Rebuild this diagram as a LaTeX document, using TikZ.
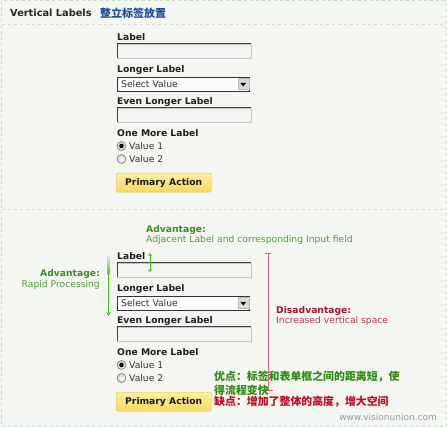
\documentclass[tikz,border=0pt]{standalone}
\usepackage{fontspec}
\setmainfont{DejaVu Sans}
\newfontfamily\cjk{Noto Sans CJK SC}
\usetikzlibrary{arrows.meta}
\definecolor{bg}{HTML}{F4F6F2}
\definecolor{edge}{HTML}{CCD8C6}
\definecolor{fieldbg}{HTML}{F3F4F1}
\definecolor{advgreen}{HTML}{3C8C1E}
\definecolor{advlight}{HTML}{4E9E30}
\definecolor{arrgreen}{HTML}{44C51F}
\definecolor{disred}{HTML}{B0102C}
\definecolor{disline}{HTML}{E0637A}
\definecolor{cjkgreen}{HTML}{2E8A10}
\definecolor{cjkred}{HTML}{C40C28}
\definecolor{hdrblue}{HTML}{1E4C9A}
\definecolor{btntop}{HTML}{FFF0A0}
\definecolor{btnbot}{HTML}{F8D860}
\definecolor{btnedge}{HTML}{DDB84E}
\tikzset{
  x=1pt,y=-1pt,
  lbl/.style={anchor=west,inner sep=0pt,font=\bfseries\fontsize{9.2}{11}\selectfont,text=black!88},
  val/.style={anchor=west,inner sep=0pt,font=\fontsize{9.2}{11}\selectfont,text=black!80},
  inbox/.style={anchor=north west,draw=gray!45,fill=fieldbg,minimum width=134pt,minimum height=14pt,inner sep=0pt},
  selbox/.style={anchor=north west,draw=black!80,line width=1.2pt,fill=white!70!fieldbg,minimum width=132pt,minimum height=14pt,inner sep=0pt},
  radio/.style={circle,draw=gray!70!black,inner color=white,outer color=gray!40,minimum size=9pt,inner sep=0pt},
  btn/.style={anchor=north west,draw=btnedge,rounded corners=2pt,top color=btntop,bottom color=btnbot,minimum width=95pt,minimum height=19pt,inner sep=0pt,font=\bfseries\fontsize{9.2}{11}\selectfont,text=black!90},
  advh/.style={inner sep=0pt,font=\bfseries\fontsize{9.2}{11}\selectfont,text=advgreen},
  advt/.style={inner sep=0pt,font=\fontsize{9.2}{11}\selectfont,text=advlight},
  cjkt/.style={anchor=west,inner sep=0pt,font=\cjk\bfseries\fontsize{10.9}{12}\selectfont},
}
\newcommand{\formset}[2]{%
  \node[lbl] (#2l1) at (117,37+#1) {Label};
  \node[inbox] (#2i1) at (117,44+#1) {};
  \draw[black!75,line width=1pt] (#2i1.south west) |- (#2i1.north east);
  \node[lbl] (#2l2) at (117,70+#1) {Longer Label};
  \node[selbox] (#2s) at (117,77+#1) {};
  \node[val,anchor=west] (#2sv) at (121,84+#1) {Select Value};
  \node[anchor=north east,fill=gray!30,draw=gray!55,minimum width=11pt,minimum height=11pt,inner sep=0pt] (#2sb) at ([xshift=-1.2pt,yshift=-1.2pt]#2s.north east) {};
  \fill[black] ([xshift=-3pt,yshift=1pt]#2sb.center) -- ([xshift=3pt,yshift=1pt]#2sb.center) -- ([yshift=-2.5pt]#2sb.center) -- cycle;
  \node[lbl] (#2l3) at (117,102+#1) {Even Longer Label};
  \node[inbox] (#2i3) at (117,108+#1) {};
  \draw[black!75,line width=1pt] (#2i3.south west) |- (#2i3.north east);
  \node[lbl] (#2l4) at (117,133+#1) {One More Label};
  \node[radio] (#2r1) at (121.5,146+#1) {};
  \fill[black] (#2r1.center) circle (2.3pt);
  \node[val] (#2v1) at (129,146+#1) {Value 1};
  \node[radio] (#2r2) at (121.5,159+#1) {};
  \node[val] (#2v2) at (129,159+#1) {Value 2};
  \node[btn] (#2b) at (116,173+#1) {Primary Action};
}
\begin{document}
\begin{tikzpicture}
\useasboundingbox (0,0) rectangle (447,427);
\fill[bg] (0,0) rectangle (447,427);
\draw[edge,dashed,line width=1pt] (1,1) rectangle (446,426);
\draw[gray!30,dashed] (2,24.5) -- (445,24.5);
\draw[gray!30,dashed] (2,209.5) -- (445,209.5);
% header
\node[anchor=west,inner sep=0pt,font=\bfseries\fontsize{9.8}{12}\selectfont,text=black!85] (title) at (10,13) {Vertical Labels};
\node[anchor=west,inner sep=0pt,font=\cjk\bfseries\fontsize{11}{12}\selectfont,text=hdrblue] (titlecn) at (100,13) {整立标签放置};
% section 1
\formset{0}{a}
% section 2
\formset{219}{b}
% annotations
\node[advh,anchor=west] (adv1h) at (146,230) {Advantage:};
\node[advt,anchor=west] (adv1t) at (146,240) {Adjacent Label and corresponding Input field};
\coordinate (dtop) at (150,253);
\coordinate (dbot) at (150,272);
\draw[arrgreen,line width=0.9pt,{Stealth[length=3pt,width=4pt]}-{Stealth[length=3pt,width=4pt]}] (dtop) -- (dbot);
\node[advh,anchor=east] (adv2h) at (100,274) {Advantage:};
\node[advt,anchor=east] (adv2t) at (100,285) {Rapid Processing};
\coordinate (vtop) at (108.5,253);
\coordinate (vmid) at (108.5,275);
\coordinate (vbot) at (108.5,316);
\shade[top color=bg,bottom color=arrgreen] (107.7,253) rectangle (109.3,275);
\draw[arrgreen,line width=1.6pt,-{Stealth[length=4pt,width=5pt]}] (vmid) -- (vbot);
\coordinate (rtop) at (268,253);
\coordinate (rbot) at (268,390);
\coordinate (rend) at (273,390);
\draw[disline,line width=0.9pt] (265,253) -- (271,253);
\draw[disline,line width=0.9pt] (rtop) -- (rbot) -- (rend);
\node[anchor=west,inner sep=0pt,font=\bfseries\fontsize{9.2}{11}\selectfont,text=disred] (dish) at (276,311) {Disadvantage:};
\node[anchor=west,inner sep=0pt,font=\fontsize{9.2}{11}\selectfont,text=disred!85!white] (dist) at (276,321) {Increased vertical space};
\node[cjkt,text=cjkgreen] (cn1) at (214,377) {优点：标签和表单框之间的距离短，使};
\node[cjkt,text=cjkgreen] (cn2) at (214,390) {得流程变快};
\node[cjkt,text=cjkred] (cn3) at (214,402) {缺点：增加了整体的高度，增大空间};
\node[anchor=east,inner sep=0pt,font=\fontsize{9}{10}\selectfont,text=gray!80] (www) at (437,417) {www.visionunion.com};
\end{tikzpicture}
\end{document}
